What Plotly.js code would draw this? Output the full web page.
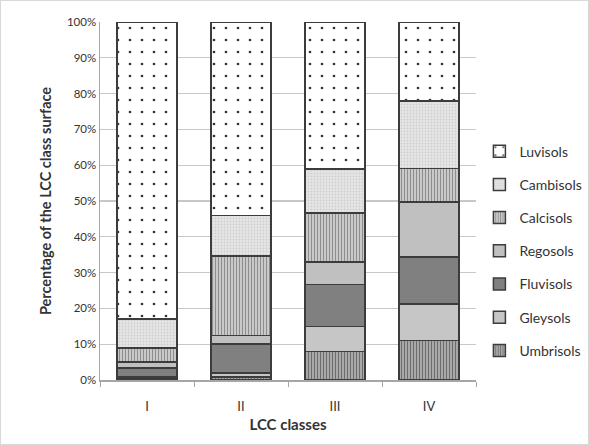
<!DOCTYPE html>
<html><head><meta charset="utf-8">
<script src="https://cdn.plot.ly/plotly-3.0.1.min.js"></script>
<style>body{margin:0;background:#fff}#c{width:587px;height:443px;border:1px solid #d9d9d9}</style>
</head><body><div id="c"></div>
<script>
const classes = ['I','II','III','IV'];
const Umbrisols = [0.5, 0.8, 8.0, 11.0];
const Gleysols  = [0.3, 1.2, 7.0, 10.3];
const Fluvisols = [2.5, 8.0, 11.7, 13.0];
const Regosols  = [1.7, 2.4, 6.2, 15.4];
const Calcisols = [4.0, 22.2, 13.7, 9.4];
const Cambisols = [8.0, 11.4, 12.4, 18.9];
const Luvisols  = [83.0, 54.0, 41.0, 22.0];
const yTicks = [0,10,20,30,40,50,60,70,80,90,100];
const yTickLabels = yTicks.map(v => v + '%');

const series = [
  {name:'Umbrisols', y:Umbrisols, bg:'#a8a8a8', pat:{shape:'|', fgcolor:'#6e6e6e', size:3, solidity:0.35}},
  {name:'Gleysols',  y:Gleysols,  bg:'#c6c6c6', pat:null},
  {name:'Fluvisols', y:Fluvisols, bg:'#808080', pat:null},
  {name:'Regosols',  y:Regosols,  bg:'#c0c0c0', pat:null},
  {name:'Calcisols', y:Calcisols, bg:'#d0d0d0', pat:{shape:'|', fgcolor:'#8e8e8e', size:3, solidity:0.4}},
  {name:'Cambisols', y:Cambisols, bg:'#e6e6e6', pat:{shape:'.', fgcolor:'#cfcfcf', size:3, solidity:0.3}},
  {name:'Luvisols',  y:Luvisols,  bg:'#ffffff', pat:{shape:'.', fgcolor:'#333333', size:12, solidity:0.04}}
];

const traces = series.map((s,i) => {
  const m = {color:s.bg, line:{color:'#3c3c3c', width:1.5}};
  if (s.pat) m.pattern = {shape:s.pat.shape, fgcolor:s.pat.fgcolor, bgcolor:s.bg, size:s.pat.size, solidity:s.pat.solidity, fillmode:'replace'};
  return {type:'bar', x:classes, y:s.y, name:s.name, marker:m, legendgroup:'g'+i, legendrank:100-i};
});

const layout = {
  width:587, height:443,
  margin:{l:99, r:112, t:21, b:64, autoexpand:false},
  barmode:'stack', bargap:0.36,
  paper_bgcolor:'#ffffff', plot_bgcolor:'#ffffff',
  font:{family:'Lato, "Open Sans", sans-serif', color:'#333'},
  xaxis:{
    title:{text:'LCC classes', font:{size:15, color:'#333', weight:'bold'}, standoff:6},
    tickfont:{size:13, color:'#333'},
    ticklabelstandoff:14,
    showline:true, linecolor:'#a6a6a6', linewidth:1.5,
    ticks:'outside', tickson:'boundaries', ticklen:5, tickcolor:'#a6a6a6',
    showgrid:false
  },
  yaxis:{
    title:{text:'Percentage of the LCC class surface', font:{size:14.5, color:'#333', weight:'bold'}, standoff:12},
    range:[0,100], tickvals:yTicks, ticktext:yTickLabels,
    tickfont:{size:11.5, color:'#333'},
    showline:true, linecolor:'#a6a6a6', linewidth:1.5,
    showgrid:true, gridcolor:'#c8c8c8', gridwidth:1.2,
    zeroline:false, ticks:''
  },
  legend:{
    xref:'container', x:0.815, xanchor:'left', y:0.36, yanchor:'middle',
    traceorder:'grouped', tracegroupgap:12,
    font:{size:14, color:'#333'}, bgcolor:'rgba(0,0,0,0)'
  },
  showlegend:true
};

Plotly.newPlot('c', traces, layout, {displayModeBar:false, staticPlot:true});
</script></body></html>
